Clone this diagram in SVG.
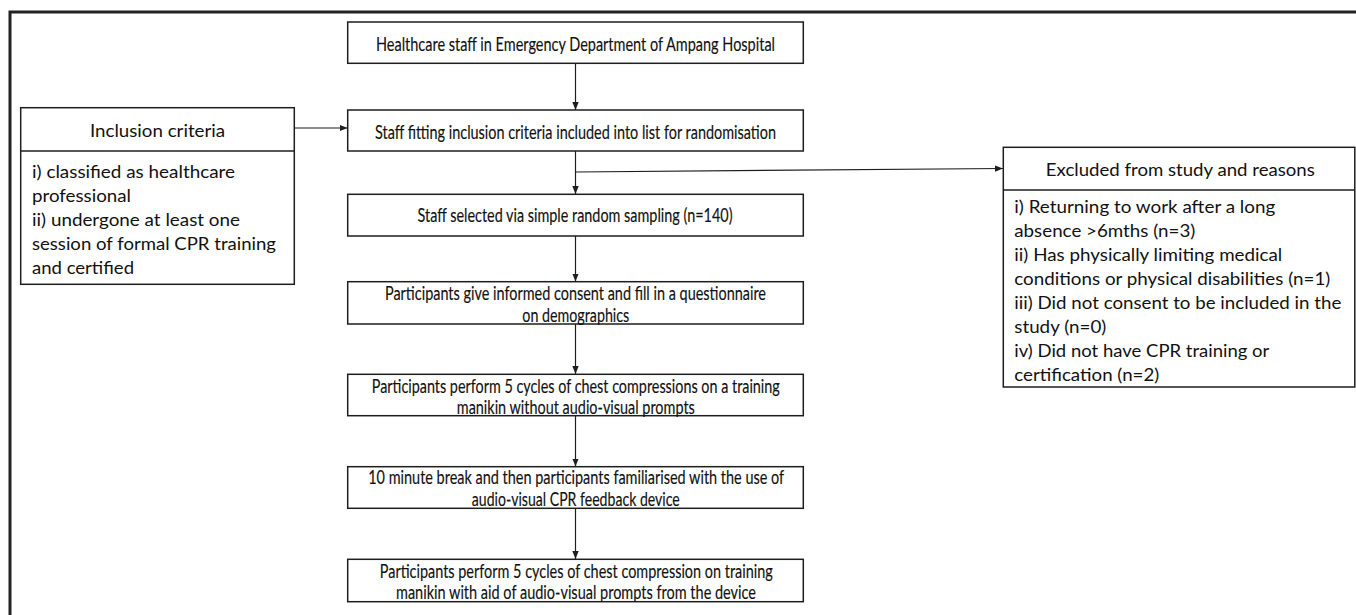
<svg xmlns="http://www.w3.org/2000/svg" width="1356" height="615" viewBox="0 0 1356 615">
  <style>
    .box { fill: #ffffff; stroke: #1e1e1e; stroke-width: 1.5; }
    .frame { fill: none; stroke: #222222; stroke-width: 3; }
    .conn { fill: none; stroke: #1e1e1e; stroke-width: 1.2; }
    text { font-family: Lato, "Open Sans", "Liberation Sans", sans-serif; font-size: 17.5px; fill: #111111; }
    .m { font-size: 19.5px; text-anchor: middle; stroke: #111111; stroke-width: 0.15; }
    .c { text-anchor: middle; }
  </style>
  <defs>
    <marker id="arrow" markerUnits="userSpaceOnUse" markerWidth="8" markerHeight="8" refX="8" refY="4" orient="auto">
      <path d="M0,0.8 L8,4 L0,7.2 z" fill="#1e1e1e"/>
    </marker>
  </defs>

  <rect width="1356" height="615" fill="#ffffff"/>

  <!-- outer frame (open at right and bottom) -->
  <path class="frame" d="M10,615 L10,12 L1356,12"/>

  <!-- connectors -->
  <g id="connectors">
    <line class="conn" x1="575.5" y1="63.5" x2="575.5" y2="110" marker-end="url(#arrow)"/>
    <line class="conn" x1="294.5" y1="128" x2="347.5" y2="128" marker-end="url(#arrow)"/>
    <line class="conn" x1="575.5" y1="151" x2="575.5" y2="194" marker-end="url(#arrow)"/>
    <line class="conn" x1="575.5" y1="172" x2="1003" y2="168.5" marker-end="url(#arrow)"/>
    <line class="conn" x1="575.5" y1="236" x2="575.5" y2="281.5" marker-end="url(#arrow)"/>
    <line class="conn" x1="575.5" y1="324" x2="575.5" y2="374" marker-end="url(#arrow)"/>
    <line class="conn" x1="575.5" y1="416" x2="575.5" y2="466.5" marker-end="url(#arrow)"/>
    <line class="conn" x1="575.5" y1="508.5" x2="575.5" y2="559" marker-end="url(#arrow)"/>
  </g>

  <!-- main flow -->
  <g id="node-population">
    <rect class="box" x="347.7" y="22" width="455.6" height="41.3"/>
    <text class="m" x="575.5" y="51" textLength="399" lengthAdjust="spacingAndGlyphs">Healthcare staff in  Emergency Department of Ampang Hospital</text>
  </g>

  <g id="node-randomisation-list">
    <rect class="box" x="347.7" y="110" width="455.6" height="41"/>
    <text class="m" x="575.5" y="138.5" textLength="401" lengthAdjust="spacingAndGlyphs">Staff fitting inclusion criteria included into list for randomisation</text>
  </g>

  <g id="node-selected">
    <rect class="box" x="347.7" y="194.3" width="455.6" height="41.7"/>
    <text class="m" x="575" y="222" textLength="315" lengthAdjust="spacingAndGlyphs">Staff selected via simple random sampling (n=140)</text>
  </g>

  <g id="node-consent">
    <rect class="box" x="347.7" y="281.7" width="455.6" height="42.3"/>
    <text class="m" x="575.5" y="300.3" textLength="381" lengthAdjust="spacingAndGlyphs">Participants give informed consent and fill in a questionnaire</text>
    <text class="m" x="575.8" y="321.5" textLength="107" lengthAdjust="spacingAndGlyphs">on demographics</text>
  </g>

  <g id="node-without-prompts">
    <rect class="box" x="347.7" y="374.3" width="455.6" height="41.4"/>
    <text class="m" x="575.8" y="392.6" textLength="408" lengthAdjust="spacingAndGlyphs">Participants perform 5 cycles of chest compressions on a training</text>
    <text class="m" x="575.8" y="414.2" textLength="238" lengthAdjust="spacingAndGlyphs">manikin without audio-visual prompts</text>
  </g>

  <g id="node-familiarisation">
    <rect class="box" x="347.7" y="466.7" width="455.6" height="41.6"/>
    <text class="m" x="576.2" y="484.3" textLength="416" lengthAdjust="spacingAndGlyphs">10 minute break and then participants familiarised with the use of</text>
    <text class="m" x="575.8" y="505.8" textLength="208" lengthAdjust="spacingAndGlyphs">audio-visual CPR feedback device</text>
  </g>

  <g id="node-with-prompts">
    <rect class="box" x="347.7" y="559.3" width="455.6" height="42.4"/>
    <text class="m" x="576.3" y="577.6" textLength="393" lengthAdjust="spacingAndGlyphs">Participants perform 5 cycles of chest compression on training</text>
    <text class="m" x="576" y="599.2" textLength="360" lengthAdjust="spacingAndGlyphs">manikin with aid of audio-visual prompts from the device</text>
  </g>

  <!-- inclusion criteria -->
  <g id="node-inclusion">
    <rect class="box" x="20.7" y="107.7" width="273.6" height="176.6"/>
    <line class="box" x1="20.7" y1="151" x2="294.3" y2="151"/>
    <text class="c" x="157.5" y="136.5" textLength="135" lengthAdjust="spacingAndGlyphs">Inclusion criteria</text>
    <text x="32" y="178" textLength="203" lengthAdjust="spacingAndGlyphs">i) classified as healthcare</text>
    <text x="32" y="201.8" textLength="99" lengthAdjust="spacingAndGlyphs">professional</text>
    <text x="32" y="225.8" textLength="208" lengthAdjust="spacingAndGlyphs">ii) undergone at least one</text>
    <text x="32" y="249.8" textLength="244" lengthAdjust="spacingAndGlyphs">session of formal CPR training</text>
    <text x="32" y="273.8" textLength="102" lengthAdjust="spacingAndGlyphs">and certified</text>
  </g>

  <!-- exclusions -->
  <g id="node-exclusion">
    <rect class="box" x="1003.3" y="147.3" width="351.5" height="239.7"/>
    <line class="box" x1="1003.3" y1="190" x2="1354.8" y2="190"/>
    <text class="c" x="1180.3" y="176.3" textLength="269" lengthAdjust="spacingAndGlyphs">Excluded from study and reasons</text>
    <text x="1014.3" y="212.5" textLength="261" lengthAdjust="spacingAndGlyphs">i) Returning to work after a long</text>
    <text x="1014.3" y="236.5" textLength="181" lengthAdjust="spacingAndGlyphs">absence &gt;6mths (n=3)</text>
    <text x="1014.3" y="260.7" textLength="268" lengthAdjust="spacingAndGlyphs">ii) Has physically limiting medical</text>
    <text x="1014.3" y="284.8" textLength="316" lengthAdjust="spacingAndGlyphs">conditions or physical disabilities (n=1)</text>
    <text x="1014.3" y="309" textLength="327" lengthAdjust="spacingAndGlyphs">iii) Did not consent to be included in the</text>
    <text x="1014.3" y="333" textLength="92" lengthAdjust="spacingAndGlyphs">study (n=0)</text>
    <text x="1014.3" y="357" textLength="255" lengthAdjust="spacingAndGlyphs">iv) Did not have CPR training or</text>
    <text x="1014.3" y="381" textLength="145" lengthAdjust="spacingAndGlyphs">certification (n=2)</text>
  </g>
</svg>
